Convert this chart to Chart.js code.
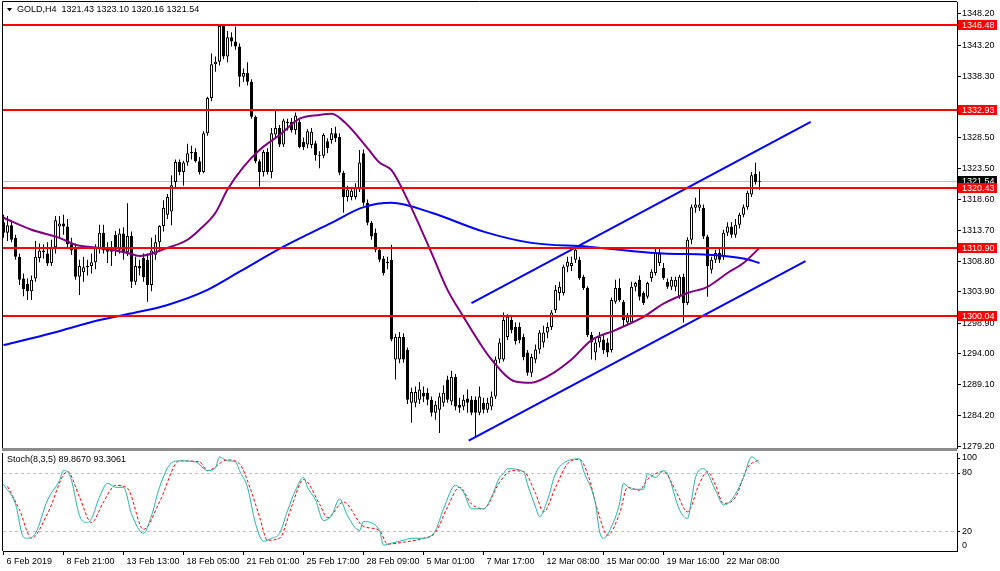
<!DOCTYPE html>
<html>
<head>
<meta charset="utf-8">
<script src="https://cdn.jsdelivr.net/npm/chart.js@4.4.1/dist/chart.umd.min.js"></script>
<style>
  html, body { margin: 0; padding: 0; background: #fff; }
  #wrap { position: relative; width: 1000px; height: 571px; overflow: hidden; background: #fff; }
  canvas { position: absolute; left: 0; }
</style>
</head>
<body>
<div id="wrap">
  <canvas id="priceChart" width="1000" height="452" style="top:0"></canvas>
  <canvas id="stochChart" width="1000" height="119" style="top:452px"></canvas>
</div>
<script>
// GOLD, H4 candles (bar index 0 = 6 Feb 2019)
var open = [
  1315.0,1313.3,1314.5,1312.5,1309.5,1306.0,1305.2,1304.0,1306.0,1309.3,
  1310.5,1310.0,1308.5,1311.0,1314.3,1314.8,1314.3,1311.5,1311.0,1306.3,
  1307.0,1307.8,1308.0,1308.6,1310.9,1313.3,1310.8,1310.3,1313.0,1310.6,
  1313.2,1310.2,1312.8,1305.5,1308.0,1309.3,1309.0,1305.0,1309.8,1311.8,
  1314.4,1316.2,1316.7,1321.4,1324.6,1323.0,1324.5,1326.0,1326.2,1324.7,
  1323.0,1329.2,1334.8,1340.2,1340.6,1346.3,1341.4,1344.5,1343.8,1343.0,
  1338.2,1338.8,1337.4,1331.8,1324.7,1323.0,1326.2,1323.0,1329.0,1330.0,
  1327.4,1330.8,1331.0,1329.7,1331.0,1327.8,1327.4,1327.3,1327.6,1325.7,
  1325.6,1327.9,1328.1,1329.2,1328.6,1322.9,1319.0,1319.0,1319.0,1320.2,
  1326.0,1318.1,1314.9,1313.3,1310.6,1309.2,1308.5,1309.0,1293.1,1293.1,
  1296.7,1294.6,1286.2,1286.2,1286.7,1287.8,1287.8,1286.7,1284.6,1285.1,
  1286.2,1289.9,1286.4,1290.3,1285.9,1285.6,1286.9,1286.7,1286.7,1284.6,
  1286.2,1285.1,1285.6,1287.2,1293.1,1293.1,1296.7,1299.4,1298.3,1298.3,
  1296.7,1294.2,1291.0,1293.1,1294.7,1295.8,1297.4,1298.3,1301.0,1303.7,
  1303.7,1307.9,1308.0,1309.0,1309.0,1306.3,1304.5,1297.0,1294.2,1295.8,
  1296.3,1295.8,1294.6,1302.3,1304.5,1302.3,1299.0,1299.0,1304.7,1305.8,
  1303.7,1303.1,1306.1,1306.9,1308.5,1307.7,1305.5,1304.7,1304.7,1303.1,
  1306.3,1302.1,1312.2,1317.3,1317.3,1317.3,1312.7,1307.4,1309.0,1310.1,
  1309.5,1313.3,1314.3,1313.0,1314.6,1316.2,1317.4,1319.4,1322.7,1321.43
];
var high = [
  1316.2,1316.0,1315.3,1313.0,1310.0,1306.8,1306.0,1306.5,1312.0,1311.6,
  1311.5,1311.8,1312.2,1316.0,1316.0,1316.2,1315.5,1312.5,1311.6,1309.0,
  1309.5,1309.0,1310.0,1311.5,1314.6,1314.6,1311.8,1312.0,1313.6,1314.0,
  1314.2,1318.0,1313.5,1309.5,1309.0,1310.0,1310.0,1312.5,1313.0,1314.5,
  1318.5,1319.5,1322.5,1325.0,1325.0,1324.8,1327.5,1327.2,1326.8,1325.4,
  1329.5,1335.0,1341.9,1341.4,1346.6,1346.5,1345.5,1345.3,1346.2,1343.5,
  1339.5,1340.5,1337.8,1332.0,1325.0,1326.5,1326.8,1330.0,1332.9,1330.5,
  1331.5,1331.5,1331.6,1332.5,1331.6,1328.5,1329.8,1330.0,1328.0,1326.3,
  1329.2,1328.4,1330.0,1330.2,1329.2,1323.2,1320.8,1320.6,1321.2,1326.5,
  1326.6,1318.6,1315.2,1314.0,1311.0,1309.6,1309.5,1311.4,1297.2,1297.5,
  1297.3,1295.0,1288.6,1288.8,1289.5,1288.8,1288.5,1287.2,1286.5,1287.8,
  1289.0,1290.5,1291.3,1290.8,1287.0,1287.5,1288.3,1287.3,1287.2,1288.8,
  1287.0,1287.0,1288.0,1293.6,1296.5,1300.6,1300.3,1300.0,1299.0,1299.0,
  1297.2,1294.6,1294.0,1295.5,1297.8,1298.5,1299.0,1301.0,1305.0,1305.5,
  1308.2,1309.5,1309.5,1310.9,1309.5,1306.6,1304.8,1297.5,1296.5,1297.5,
  1297.0,1296.5,1303.0,1305.8,1306.0,1302.6,1300.5,1305.5,1305.5,1306.5,
  1304.0,1305.5,1307.5,1311.0,1310.8,1308.5,1306.0,1306.3,1306.3,1306.6,
  1306.8,1312.6,1317.8,1318.9,1320.4,1317.8,1313.0,1309.5,1310.6,1310.8,
  1313.8,1315.0,1315.0,1315.5,1316.5,1317.8,1320.0,1323.0,1324.5,1323.10
];
var low = [
  1312.5,1312.0,1311.8,1309.0,1305.0,1303.2,1302.6,1302.6,1305.5,1308.6,
  1309.2,1308.0,1308.0,1310.0,1312.5,1313.0,1311.0,1309.8,1305.8,1303.4,
  1305.5,1306.5,1306.8,1307.5,1310.0,1310.0,1308.5,1308.0,1309.6,1310.0,
  1309.0,1309.6,1304.5,1305.0,1306.5,1305.5,1302.3,1304.0,1309.0,1310.5,
  1313.5,1315.5,1314.5,1320.5,1322.5,1320.8,1324.0,1325.0,1324.5,1322.6,
  1322.8,1328.8,1334.3,1339.0,1340.0,1341.0,1340.5,1343.0,1342.5,1336.6,
  1337.4,1336.8,1331.5,1324.4,1320.7,1322.3,1322.6,1322.0,1328.4,1327.0,
  1327.0,1329.6,1329.3,1329.0,1326.8,1326.5,1326.8,1326.8,1324.8,1323.6,
  1325.2,1326.0,1327.5,1327.8,1322.5,1316.5,1318.3,1318.5,1318.6,1319.8,
  1317.6,1314.5,1312.2,1310.2,1308.6,1306.5,1307.5,1296.0,1289.9,1292.5,
  1292.6,1286.0,1283.0,1285.5,1286.0,1286.3,1285.8,1284.0,1283.5,1281.4,
  1285.6,1286.2,1285.8,1285.0,1284.6,1285.0,1284.6,1284.2,1280.8,1284.2,
  1284.5,1284.6,1285.0,1286.8,1292.5,1292.8,1296.2,1297.3,1295.5,1295.7,
  1293.0,1290.5,1290.3,1292.5,1294.0,1295.0,1296.5,1297.8,1300.5,1302.5,
  1303.3,1307.0,1307.2,1308.5,1305.8,1304.2,1296.7,1293.1,1293.0,1295.0,
  1294.0,1293.5,1294.2,1302.0,1302.3,1298.3,1298.5,1298.8,1304.0,1302.5,
  1301.8,1302.8,1305.5,1306.5,1308.0,1305.8,1304.4,1304.2,1304.0,1302.8,
  1299.0,1301.8,1311.5,1316.5,1316.8,1312.3,1303.1,1306.8,1308.5,1308.5,
  1309.0,1312.8,1312.5,1312.5,1314.0,1315.8,1317.0,1319.0,1321.0,1320.16
];
var close = [
  1313.3,1314.5,1312.2,1309.5,1305.8,1304.3,1304.0,1305.8,1309.5,1310.5,
  1310.2,1308.4,1311.0,1315.3,1314.8,1314.3,1311.5,1310.5,1306.3,1308.0,
  1307.8,1308.0,1308.6,1311.0,1313.3,1310.5,1310.3,1311.0,1310.6,1313.2,
  1310.2,1312.8,1305.5,1308.0,1307.6,1306.2,1305.0,1310.5,1311.8,1314.4,
  1317.3,1319.0,1320.9,1324.6,1323.0,1324.5,1326.0,1326.2,1324.7,1323.0,
  1329.2,1334.8,1340.2,1340.6,1346.3,1341.4,1344.5,1343.8,1343.0,1338.2,
  1338.8,1337.4,1331.8,1324.7,1323.0,1326.2,1323.0,1329.2,1330.0,1327.4,
  1331.2,1331.0,1329.7,1332.0,1327.0,1327.0,1329.5,1329.4,1325.7,1325.6,
  1328.9,1326.8,1329.2,1328.4,1322.9,1319.0,1320.2,1320.0,1320.6,1324.5,
  1318.1,1314.9,1312.7,1310.6,1309.0,1306.9,1308.7,1296.3,1296.7,1296.7,
  1293.1,1286.7,1287.9,1287.9,1288.3,1287.2,1286.7,1284.6,1285.9,1287.2,
  1287.8,1286.7,1290.3,1285.6,1285.4,1286.7,1286.2,1284.6,1284.6,1287.2,
  1285.1,1286.2,1287.2,1293.1,1295.8,1299.4,1299.9,1297.8,1296.0,1296.2,
  1293.5,1291.0,1293.5,1294.7,1297.4,1297.4,1298.3,1300.6,1304.2,1304.7,
  1307.9,1308.7,1308.5,1310.6,1306.1,1304.5,1297.0,1295.8,1295.8,1296.7,
  1294.6,1294.2,1302.6,1304.5,1302.6,1299.4,1299.9,1304.7,1305.3,1303.1,
  1302.1,1305.3,1307.1,1310.1,1310.0,1306.1,1304.7,1305.8,1305.8,1306.3,
  1302.1,1312.2,1317.4,1317.8,1317.8,1312.7,1308.0,1309.0,1310.1,1309.0,
  1313.3,1314.3,1313.0,1314.6,1316.2,1317.4,1319.7,1322.5,1321.4,1321.54
];

// time axis
var dateTicks = [0, 15, 30, 45, 60, 75, 90, 105, 120, 135, 150, 165, 180];
var dateLabels = ['6 Feb 2019', '8 Feb 21:00', '13 Feb 13:00', '18 Feb 05:00', '21 Feb 01:00',
  '25 Feb 17:00', '28 Feb 09:00', '5 Mar 01:00', '7 Mar 17:00', '12 Mar 08:00',
  '15 Mar 00:00', '19 Mar 16:00', '22 Mar 08:00'];

// price axis and horizontal levels
var priceTicks = [1348.20, 1343.20, 1338.30, 1328.50, 1323.50, 1318.60, 1313.70,
  1308.80, 1303.90, 1298.90, 1294.00, 1289.10, 1284.20, 1279.20];
var levels = [1346.48, 1332.93, 1320.43, 1310.90, 1300.04];
var lastPrice = 1321.54;

// moving averages (sampled along the curves)
var maFastIdx = [0, 7, 14, 18, 24, 31, 34, 41, 46, 49, 53, 56, 60, 64, 69, 74, 79, 82, 86, 91, 94,
  97, 101, 107, 111, 115, 119, 122, 128, 132, 136, 142, 147, 153, 160, 165, 171, 176, 181, 185, 189];
var maFastVal = [1315.7, 1313.8, 1312.5, 1311.4, 1310.9, 1310.1, 1309.6, 1310.9, 1312.2, 1313.8,
  1316.5, 1320.2, 1323.8, 1326.5, 1328.9, 1331.5, 1332.1, 1332.3, 1330.5, 1326.8, 1324.5,
  1323.3, 1318.6, 1310.1, 1304.2, 1299.9, 1295.8, 1293.1, 1289.6, 1289.4, 1290.4, 1293.1,
  1296.2, 1297.8, 1299.9, 1302.0, 1303.7, 1304.7, 1306.9, 1308.5, 1310.9];
var maSlowIdx = [0, 12, 24, 33, 41, 51, 59, 70, 82, 90, 97, 107, 120, 132, 146, 165, 176, 185, 189];
var maSlowVal = [1295.4, 1297.3, 1299.4, 1300.6, 1301.8, 1304.2, 1307.1, 1311.1, 1314.9, 1317.4,
  1318.1, 1316.5, 1313.5, 1311.7, 1311.1, 1310.0, 1309.8, 1309.2, 1308.5];

// channel trend lines
var upperIdx = [117, 201.8];
var upperVal = [1302.1, 1331.0];
var lowerIdx = [116.3, 200.5];
var lowerVal = [1280.15, 1308.8];

// Stoch(8,3,5)
var stochKIdx = [0, 3, 5, 6, 8, 11, 14, 15, 16, 17, 19, 21, 22, 24, 26, 28, 30, 32, 35, 37,
  39, 42, 44, 48, 51, 53, 54, 56, 58, 59, 61, 63, 65, 67, 69, 71, 73, 75, 76, 78,
  80, 82, 84, 86, 89, 90, 94, 95, 97, 100, 102, 105, 108, 110, 113, 115, 117, 120, 122, 124,
  125, 126, 130, 131, 133, 134, 136, 138, 141, 144, 145, 148, 149, 150, 152, 154, 155, 157, 160, 161,
  163, 165, 166, 169, 171, 172, 173, 175, 178, 180, 182, 185, 187, 189];
var stochKVal = [68, 48, 14, 13, 18, 52, 72, 82, 81, 72, 36, 29, 33, 55, 69, 65, 65, 38, 18, 36,
  65, 90, 92, 91, 82, 85, 96, 92, 91, 82, 65, 28, 10, 13, 18, 41, 62, 75, 65, 52,
  31, 36, 53, 36, 21, 30, 21, 6, 8, 11, 13, 13, 21, 43, 67, 60, 43, 43, 55, 75,
  79, 84, 81, 68, 45, 35, 52, 79, 92, 94, 82, 48, 20, 13, 25, 48, 69, 63, 63, 79,
  75, 82, 79, 42, 33, 52, 75, 84, 62, 47, 52, 75, 96, 89.867];
var stochDIdx = [1, 4, 7, 11, 16, 19, 22, 25, 28, 31, 35, 39, 44, 49, 51, 56, 59, 62, 64, 66,
  69, 72, 75, 79, 81, 85, 90, 94, 96, 100, 105, 108, 111, 114, 117, 120, 124, 127, 130, 133,
  135, 138, 141, 144, 146, 149, 151, 154, 156, 159, 161, 165, 168, 171, 174, 176, 178, 180, 183, 186, 189];
var stochDVal = [66, 42, 13, 38, 81, 55, 29, 50, 67, 64, 22, 50, 92, 91, 82, 93, 89, 60, 35, 11,
  13, 45, 73, 48, 34, 50, 25, 21, 7, 9, 13, 19, 45, 65, 48, 43, 70, 82, 81, 59,
  40, 65, 89, 93.5, 79, 35, 16, 38, 65, 62, 73, 81, 62, 40, 69, 81, 67, 48.5, 55, 85, 93.3061];
var stochLevels = [80, 20];
var stochTicks = [100, 80, 20, 0];

var xMin = -0.125, xMax = 238.375;
var FONT = '"Liberation Sans", Arial, sans-serif';
Chart.defaults.font.family = FONT;
Chart.defaults.font.size = 9;
Chart.defaults.color = '#000';

function pts(xs, ys) {
  return xs.map(function (x, i) { return { x: x, y: ys[i] }; });
}

var wickData = low.map(function (l, i) { return { x: i, y: [l, high[i]] }; });
var bodyData = open.map(function (o, i) { return { x: i, y: [o, close[i]] }; });
var bodyColors = open.map(function (o, i) { return close[i] >= o ? '#ffffff' : '#000000'; });

var priceOverlay = {
  id: 'priceOverlay',
  beforeDatasetsDraw: function (chart) {
    var ctx = chart.ctx, a = chart.chartArea, y = chart.scales.y;
    var py = Math.round(y.getPixelForValue(lastPrice)) + 0.5;
    ctx.save();
    ctx.strokeStyle = '#c0c0c0';
    ctx.lineWidth = 1;
    ctx.beginPath(); ctx.moveTo(a.left, py); ctx.lineTo(a.right, py); ctx.stroke();
    ctx.restore();
  },
  afterDatasetsDraw: function (chart) {
    var ctx = chart.ctx, a = chart.chartArea, y = chart.scales.y;
    ctx.save();
    ctx.strokeStyle = '#ff0000';
    ctx.lineWidth = 2;
    levels.forEach(function (v) {
      var py = Math.round(y.getPixelForValue(v));
      ctx.beginPath(); ctx.moveTo(a.left, py); ctx.lineTo(a.right, py); ctx.stroke();
    });
    ctx.restore();
  },
  afterDraw: function (chart) {
    var ctx = chart.ctx, a = chart.chartArea, y = chart.scales.y;
    ctx.save();
    // frame + window separator
    ctx.strokeStyle = '#000';
    ctx.lineWidth = 1;
    ctx.beginPath();
    ctx.moveTo(a.left - 0.5, a.bottom);
    ctx.lineTo(a.left - 0.5, a.top - 0.5);
    ctx.lineTo(a.right, a.top - 0.5);
    ctx.stroke();
    ctx.fillStyle = '#8c8c8c';
    ctx.fillRect(a.left - 1, a.bottom, a.right - a.left + 1, 3);

    // price tags on the axis
    ctx.font = '9px ' + FONT;
    ctx.textBaseline = 'middle';
    ctx.textAlign = 'left';
    function tag(v, bg) {
      var py = Math.round(y.getPixelForValue(v));
      ctx.fillStyle = bg;
      ctx.fillRect(a.right + 1, py - 5, 39, 10);
      ctx.fillStyle = '#fff';
      ctx.fillText(v.toFixed(2), a.right + 5, py + 0.5);
    }
    tag(lastPrice, '#000');
    levels.forEach(function (v) { tag(v, '#ff0000'); });

    // header
    var n = close.length - 1;
    ctx.fillStyle = '#000';
    ctx.beginPath(); ctx.moveTo(7, 8); ctx.lineTo(12, 8); ctx.lineTo(9.5, 11.5); ctx.closePath(); ctx.fill();
    ctx.fillText('GOLD,H4  ' + [open[n], high[n], low[n], close[n]].map(function (v) { return v.toFixed(2); }).join(' '), 17, 10);
    ctx.restore();
  }
};

new Chart(document.getElementById('priceChart').getContext('2d'), {
  type: 'bar',
  data: {
    datasets: [
      { type: 'line', label: 'upper', data: pts(upperIdx, upperVal), borderColor: '#0000ff', borderWidth: 2, pointRadius: 0, order: 0 },
      { type: 'line', label: 'lower', data: pts(lowerIdx, lowerVal), borderColor: '#0000ff', borderWidth: 2, pointRadius: 0, order: 0 },
      { type: 'line', label: 'MA fast', data: pts(maFastIdx, maFastVal), borderColor: '#800080', borderWidth: 2, pointRadius: 0, cubicInterpolationMode: 'monotone', order: 0 },
      { type: 'line', label: 'MA slow', data: pts(maSlowIdx, maSlowVal), borderColor: '#0000ff', borderWidth: 2, pointRadius: 0, cubicInterpolationMode: 'monotone', order: 0 },
      { label: 'body', data: bodyData, backgroundColor: bodyColors, borderColor: '#000', borderWidth: 1,
        borderSkipped: false, barThickness: 3, grouped: false, minBarLength: 1, inflateAmount: 0, order: 1 },
      { label: 'wick', data: wickData, backgroundColor: '#000', borderWidth: 0,
        barThickness: 1, grouped: false, inflateAmount: 0, order: 2 }
    ]
  },
  options: {
    responsive: false,
    animation: false,
    events: [],
    layout: { padding: { left: 3, top: 2, right: 0, bottom: 4 } },
    plugins: { legend: { display: false }, tooltip: { enabled: false } },
    scales: {
      x: { type: 'linear', min: xMin, max: xMax, offset: false, display: false, grid: { offset: false } },
      y: {
        position: 'right', min: 1278.99, max: 1350.11, beginAtZero: false,
        afterBuildTicks: function (s) { s.ticks = priceTicks.map(function (v) { return { value: v }; }); },
        afterFit: function (s) { s.width = 43; s.paddingTop = 0; s.paddingBottom = 0; },
        ticks: { callback: function (v) { return Number(v).toFixed(2); }, padding: 1, color: '#000', font: { size: 9 } },
        grid: { drawOnChartArea: false, tickLength: 4, color: '#000' },
        border: { color: '#000' }
      }
    }
  },
  plugins: [priceOverlay]
});

var stochOverlay = {
  id: 'stochOverlay',
  beforeDatasetsDraw: function (chart) {
    var ctx = chart.ctx, a = chart.chartArea, y = chart.scales.y;
    ctx.save();
    ctx.strokeStyle = '#c0c0c0';
    ctx.lineWidth = 1;
    ctx.setLineDash([3, 3]);
    stochLevels.forEach(function (v) {
      var py = Math.round(y.getPixelForValue(v)) + 0.5;
      ctx.beginPath(); ctx.moveTo(a.left, py); ctx.lineTo(a.right, py); ctx.stroke();
    });
    ctx.restore();
  },
  afterDraw: function (chart) {
    var ctx = chart.ctx, a = chart.chartArea, y = chart.scales.y;
    ctx.save();
    ctx.strokeStyle = '#000';
    ctx.lineWidth = 1;
    ctx.beginPath(); ctx.moveTo(a.left - 0.5, a.top); ctx.lineTo(a.left - 0.5, a.bottom); ctx.stroke();
    ctx.font = '9px ' + FONT;
    ctx.fillStyle = '#000';
    ctx.textBaseline = 'middle';
    ctx.textAlign = 'left';
    stochTicks.forEach(function (v) {
      var py = Math.min(Math.max(y.getPixelForValue(v), a.top + 5), a.bottom - 5);
      if (v !== 0) {
        ctx.beginPath(); ctx.moveTo(a.right, Math.round(py) + 0.5); ctx.lineTo(a.right + 3, Math.round(py) + 0.5); ctx.stroke();
      }
      ctx.fillText(String(v), a.right + 5, py);
    });
    ctx.fillText('Stoch(8,3,5) ' + stochKVal[stochKVal.length - 1].toFixed(4) + ' ' +
      stochDVal[stochDVal.length - 1].toFixed(4), 7, a.top + 7);
    ctx.restore();
  }
};

new Chart(document.getElementById('stochChart').getContext('2d'), {
  type: 'line',
  data: {
    datasets: [
      { label: '%K', data: pts(stochKIdx, stochKVal), borderColor: '#20b2aa', borderWidth: 1, pointRadius: 0, cubicInterpolationMode: 'monotone' },
      { label: '%D', data: pts(stochDIdx, stochDVal), borderColor: '#ff0000', borderWidth: 1, borderDash: [3, 2], pointRadius: 0, cubicInterpolationMode: 'monotone' }
    ]
  },
  options: {
    responsive: false,
    animation: false,
    events: [],
    layout: { padding: { left: 3, top: 1, right: 0, bottom: 0 } },
    plugins: { legend: { display: false }, tooltip: { enabled: false } },
    scales: {
      x: {
        type: 'linear', min: xMin, max: xMax, offset: false,
        afterBuildTicks: function (s) { s.ticks = dateTicks.map(function (v) { return { value: v }; }); },
        afterFit: function (s) { s.height = 20; s.paddingLeft = 0; s.paddingRight = 0; },
        ticks: {
          callback: function (v, i) { return dateLabels[i]; },
          align: 'start', labelOffset: 3, maxRotation: 0, autoSkip: false, padding: 1, color: '#000', font: { size: 9 }
        },
        grid: { drawOnChartArea: false, tickLength: 4, color: '#000' },
        border: { color: '#000' }
      },
      y: {
        position: 'right', min: 0, max: 100,
        afterFit: function (s) { s.width = 43; s.paddingTop = 0; s.paddingBottom = 0; },
        ticks: { display: false },
        grid: { display: false },
        border: { color: '#000' }
      }
    }
  },
  plugins: [stochOverlay]
});
</script>
</body>
</html>
